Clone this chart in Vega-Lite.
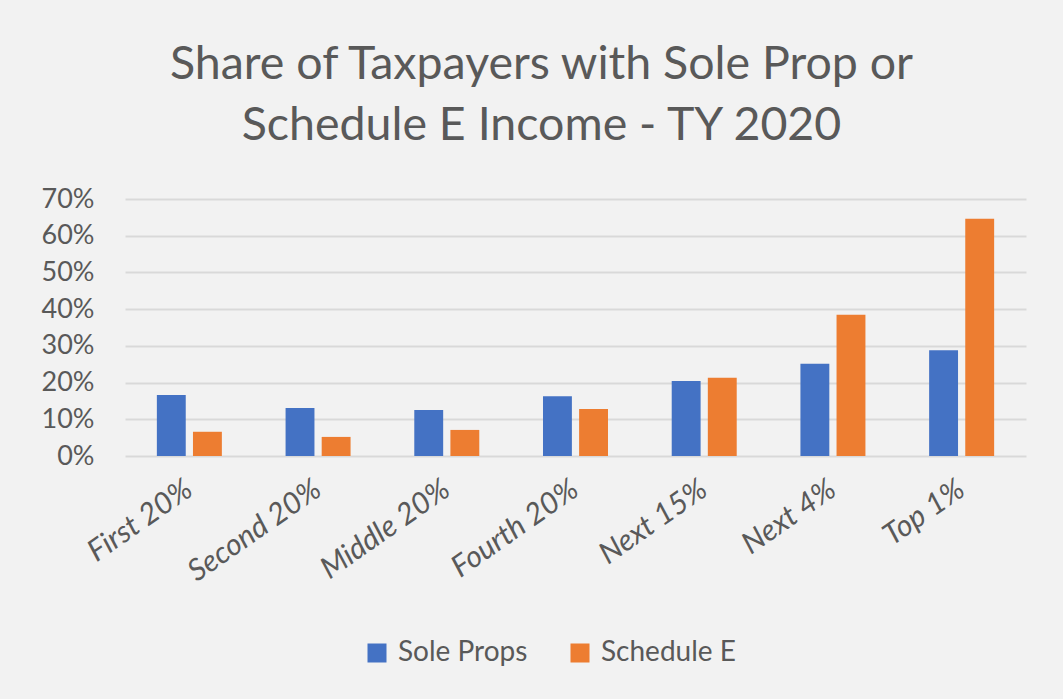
{
  "$schema": "https://vega.github.io/schema/vega-lite/v6.json",
  "width": 901,
  "height": 257,
  "autosize": {"type": "none"},
  "padding": {"left": 125, "top": 199, "right": 37, "bottom": 243},
  "background": "#f2f2f2",
  "title": {
    "text": ["Share of Taxpayers with Sole Prop or", "Schedule E Income - TY 2020"],
    "font": "Lato",
    "fontSize": 46.5,
    "fontWeight": "normal",
    "color": "#595959",
    "lineHeight": 61,
    "anchor": "middle",
    "dx": -34,
    "offset": 36
  },
  "data": {
    "values": [
      {"group": "First 20%", "series": "Sole Props", "value": 0.166},
      {"group": "First 20%", "series": "Schedule E", "value": 0.066},
      {"group": "Second 20%", "series": "Sole Props", "value": 0.131},
      {"group": "Second 20%", "series": "Schedule E", "value": 0.052},
      {"group": "Middle 20%", "series": "Sole Props", "value": 0.125},
      {"group": "Middle 20%", "series": "Schedule E", "value": 0.071},
      {"group": "Fourth 20%", "series": "Sole Props", "value": 0.163},
      {"group": "Fourth 20%", "series": "Schedule E", "value": 0.128},
      {"group": "Next 15%", "series": "Sole Props", "value": 0.204},
      {"group": "Next 15%", "series": "Schedule E", "value": 0.213},
      {"group": "Next 4%", "series": "Sole Props", "value": 0.251},
      {"group": "Next 4%", "series": "Schedule E", "value": 0.385},
      {"group": "Top 1%", "series": "Sole Props", "value": 0.288},
      {"group": "Top 1%", "series": "Schedule E", "value": 0.646}
    ]
  },
  "mark": {"type": "bar", "strokeWidth": 0},
  "encoding": {
    "x": {
      "field": "group",
      "type": "nominal",
      "sort": null,
      "scale": {"paddingInner": 0.495, "paddingOuter": 0.2475},
      "axis": {
        "title": null,
        "labelAngle": -35,
        "labelAlign": "right",
        "labelBaseline": "middle",
        "labelFont": "Lato",
        "labelFontStyle": "italic",
        "labelFontSize": 30,
        "labelColor": "#595959",
        "labelPadding": 30,
        "ticks": false,
        "domain": false,
        "grid": false
      }
    },
    "xOffset": {
      "field": "series",
      "type": "nominal",
      "sort": ["Sole Props", "Schedule E"],
      "scale": {"paddingInner": 0.2, "paddingOuter": 0}
    },
    "y": {
      "field": "value",
      "type": "quantitative",
      "scale": {"domain": [0, 0.7], "nice": false},
      "axis": {
        "title": null,
        "format": ".0%",
        "values": [0, 0.1, 0.2, 0.3, 0.4, 0.5, 0.6, 0.7],
        "labelFont": "Lato",
        "labelFontSize": 27,
        "labelColor": "#595959",
        "labelPadding": 31,
        "ticks": false,
        "domain": false,
        "grid": true,
        "gridColor": "#d9d9d9",
        "gridWidth": 1.8
      }
    },
    "color": {
      "field": "series",
      "type": "nominal",
      "sort": ["Sole Props", "Schedule E"],
      "scale": {"domain": ["Sole Props", "Schedule E"], "range": ["#4472C4", "#ED7D31"]},
      "legend": {
        "title": null,
        "orient": "none",
        "direction": "horizontal",
        "legendX": 238,
        "legendY": 440,
        "symbolType": "square",
        "symbolSize": 361,
        "symbolStrokeWidth": 0,
        "labelFont": "Lato",
        "labelFontSize": 28,
        "labelColor": "#595959",
        "labelOffset": 7,
        "columnPadding": 38
      }
    }
  },
  "config": {"view": {"stroke": null}}
}
